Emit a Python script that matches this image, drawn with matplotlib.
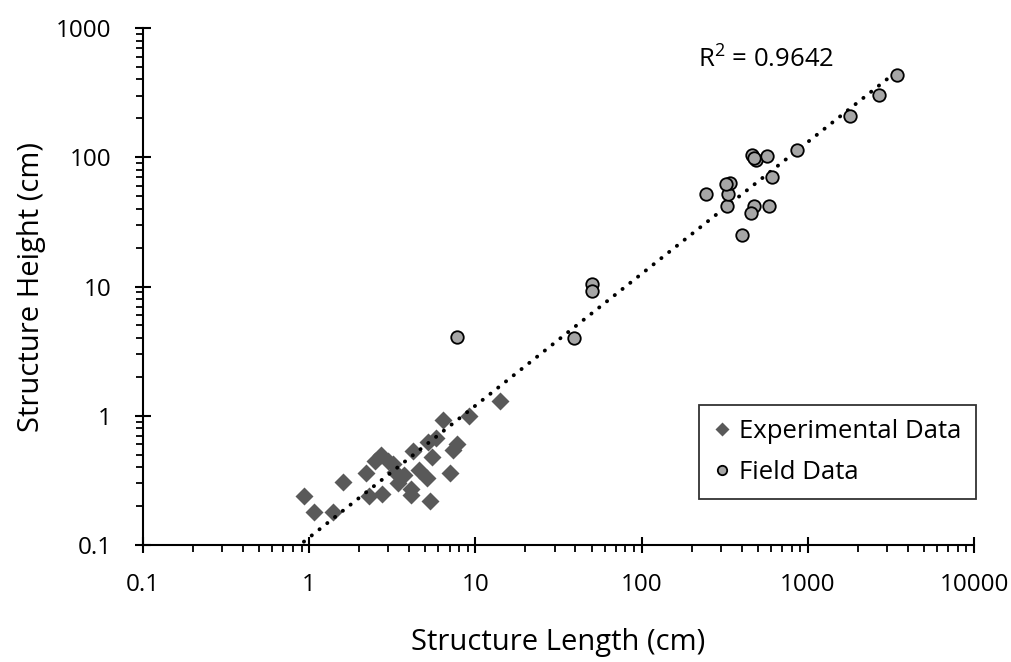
import numpy as np
import matplotlib
matplotlib.use("Agg")
import matplotlib.pyplot as plt
from matplotlib.ticker import LogLocator, FixedLocator, FixedFormatter, NullFormatter

plt.rcParams["font.family"] = ["Open Sans", "DejaVu Sans"]
plt.rcParams["mathtext.default"] = "regular"

# experimental data (diamonds)
exp_len = [0.93, 1.07, 1.40, 1.60, 2.2, 2.3, 2.75, 2.7, 3.0, 2.5, 3.2, 3.4, 3.3,
           4.2, 3.7, 4.1, 4.1, 4.6, 5.1, 5.3, 5.5, 5.2, 5.8, 7.0, 7.7, 7.3,
           6.4, 9.2, 14.0]
exp_hgt = [0.24, 0.18, 0.18, 0.31, 0.36, 0.24, 0.25, 0.50, 0.45, 0.45, 0.42, 0.30, 0.37,
           0.53, 0.35, 0.27, 0.245, 0.38, 0.33, 0.22, 0.48, 0.63, 0.67, 0.36, 0.60, 0.54,
           0.92, 1.0, 1.3]

# field data (circles)
fld_len = [7.8, 39, 50, 50, 245, 325, 330, 340, 320, 400, 460, 490, 475, 565,
           605, 475, 455, 585, 860, 1800, 2700, 3450]
fld_hgt = [4.1, 4.0, 10.4, 9.2, 52, 42, 52, 63, 62, 25, 104, 95, 98, 103,
           70, 42, 37, 42, 113, 210, 305, 435]

r2_text = r"R$^{2}$ = 0.9642"

fig = plt.figure(figsize=(10.11, 6.62), dpi=100)
ax = fig.add_axes([0.1414, 0.1767, 0.822, 0.781])

# power-law trendline over all data
all_x = np.array(exp_len + fld_len)
all_y = np.array(exp_hgt + fld_hgt)
b, a = np.polyfit(np.log10(all_x), np.log10(all_y), 1)
xs = np.logspace(np.log10(all_x.min()), np.log10(all_x.max()), 200)
ax.plot(xs, 10**a * xs**b, color="black", lw=2.8, ls=(0, (0.05, 2.5)),
        dash_capstyle="round", zorder=3)

ax.plot(exp_len, exp_hgt, ls="none", marker="D", ms=9, color="#595959",
        mec="none", label="Experimental Data", zorder=2)
ax.plot(fld_len, fld_hgt, ls="none", marker="o", ms=9, mfc="#a6a6a6",
        mec="black", mew=1.3, label="Field Data", zorder=4)

ax.set_xscale("log")
ax.set_yscale("log")
ax.set_xlim(0.1, 10000)
ax.set_ylim(0.1, 1000)

xt = [0.1, 1, 10, 100, 1000, 10000]
yt = [0.1, 1, 10, 100, 1000]
ax.xaxis.set_major_locator(FixedLocator(xt))
ax.xaxis.set_major_formatter(FixedFormatter(["0.1", "1", "10", "100", "1000", "10000"]))
ax.yaxis.set_major_locator(FixedLocator(yt))
ax.yaxis.set_major_formatter(FixedFormatter(["0.1", "1", "10", "100", "1000"]))
ax.xaxis.set_minor_locator(LogLocator(base=10, subs=np.arange(2, 10)))
ax.yaxis.set_minor_locator(LogLocator(base=10, subs=np.arange(2, 10)))
ax.xaxis.set_minor_formatter(NullFormatter())
ax.yaxis.set_minor_formatter(NullFormatter())

for s in ["top", "right"]:
    ax.spines[s].set_visible(False)
for s in ["left", "bottom"]:
    ax.spines[s].set_linewidth(1.5)
ax.tick_params(which="major", direction="inout", length=11, width=1.5, labelsize=17.5)
ax.tick_params(which="minor", direction="out", length=5, width=1.3)
ax.tick_params(axis="x", which="major", pad=15)
ax.tick_params(axis="y", which="major", pad=17)

ax.set_xlabel("Structure Length (cm)", fontsize=21, labelpad=22)
ax.set_ylabel("Structure Height (cm)", fontsize=21, labelpad=7)

ax.text(217, 565, r2_text, fontsize=18.5, va="center", ha="left")

leg = ax.legend(loc="lower right", bbox_to_anchor=(1.002, 0.089), fontsize=18.5,
                frameon=True, fancybox=False, handlelength=0.7, handletextpad=0.3,
                borderpad=0.55, labelspacing=0.6, markerscale=0.75, borderaxespad=0)
leg.get_frame().set_edgecolor("black")
leg.get_frame().set_linewidth(1.3)

fig.savefig("out.png", dpi=100)
